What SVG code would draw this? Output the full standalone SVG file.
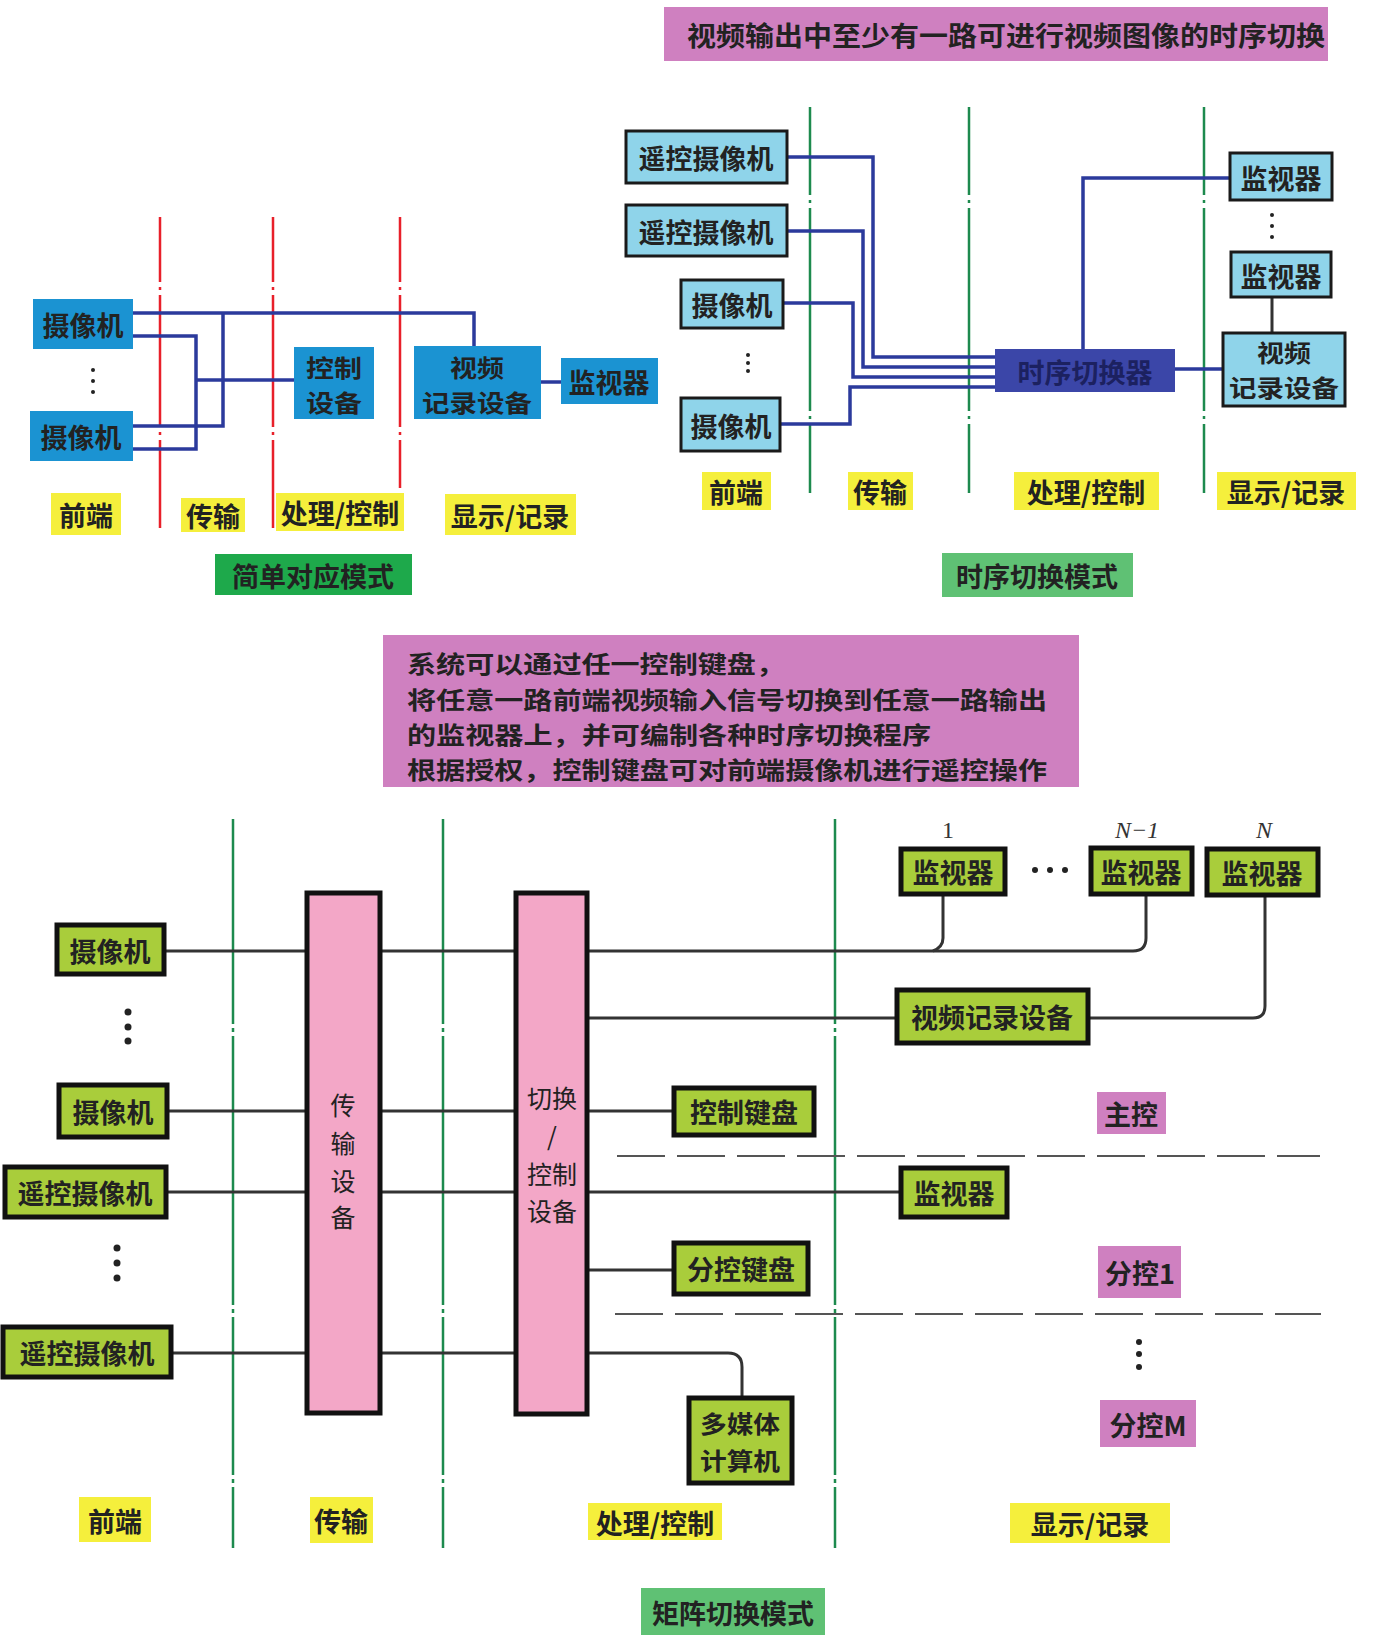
<svg xmlns="http://www.w3.org/2000/svg" width="1377" height="1636" viewBox="0 0 1377 1636">
<style>
text{font-family:"Noto Sans CJK SC","Noto Sans",sans-serif;font-weight:bold;fill:#222;text-anchor:middle;dominant-baseline:central;font-size:27px}
.t2{font-size:24px}
.blue{fill:#1b93d2}
.lb{fill:#8fd4ea;stroke:#1a1a1a;stroke-width:3}
.lime{fill:#a9cd3b;stroke:#111;stroke-width:5}
.pinkbar{fill:#f3a7c7;stroke:#111;stroke-width:5}
.yel{fill:#f5ef3c}
.mag{fill:#cf80c0}
.grn{fill:#1ea94b}
.lgrn{fill:#5fc174}
.red{stroke:#e8202a;stroke-width:2.5;fill:none;stroke-dasharray:65 5 3 5 132 5 3 5 300}
.gl{stroke:#1d8a4e;stroke-width:2.5;fill:none;stroke-dasharray:88 5 3 5 203 5 3 5 200}
.gl2{stroke:#1d8a4e;stroke-width:2.5;fill:none;stroke-dasharray:205 4 4 4 269 4 4 4 158 4 4 4 100}
.bl{stroke:#2b3a9c;stroke-width:3.5;fill:none}
.k{stroke:#333;stroke-width:3;fill:none}
.sep{stroke:#555;stroke-width:2;fill:none;stroke-dasharray:48 12}
.dot{fill:#222}
.vt{font-weight:normal;font-size:25px}
.note{text-anchor:start;font-size:24px}
.num{font-family:"Liberation Serif",serif;font-weight:normal;font-size:24px;fill:#333}
</style>

<!-- ===== Top-left: simple correspondence mode ===== -->
<g id="tl-dividers">
<line class="red" x1="160" y1="217" x2="160" y2="528"/>
<line class="red" x1="273" y1="217" x2="273" y2="528"/>
<line class="red" x1="400" y1="217" x2="400" y2="488"/>
</g>
<g id="tl-connectors">
<path class="bl" d="M133,313 H474 V346"/>
<path class="bl" d="M133,336 H196 V449 H133"/>
<path class="bl" d="M223,313 V426 H133"/>
<path class="bl" d="M196,380 H294"/>
<path class="bl" d="M541,382 H561"/>
</g>
<g id="tl-cam1"><rect class="blue" x="33" y="299" width="100" height="50"/><text x="83" y="324">摄像机</text></g>
<g id="tl-dots"><circle class="dot" cx="93" cy="370" r="2"/><circle class="dot" cx="93" cy="381" r="2"/><circle class="dot" cx="93" cy="392" r="2"/></g>
<g id="tl-cam2"><rect class="blue" x="30" y="411" width="103" height="50"/><text x="81" y="436">摄像机</text></g>
<g id="tl-ctrl"><rect class="blue" x="294" y="347" width="80" height="72"/><text class="t2" x="334" y="366" textLength="56" lengthAdjust="spacingAndGlyphs">控制</text><text class="t2" x="334" y="401" textLength="56" lengthAdjust="spacingAndGlyphs">设备</text></g>
<g id="tl-rec"><rect class="blue" x="414" y="346" width="127" height="73"/><text class="t2" x="477" y="366" textLength="54" lengthAdjust="spacingAndGlyphs">视频</text><text class="t2" x="477" y="401" textLength="110" lengthAdjust="spacingAndGlyphs">记录设备</text></g>
<g id="tl-mon"><rect class="blue" x="561" y="358" width="97" height="46"/><text x="609" y="381">监视器</text></g>
<g id="tl-labels">
<rect class="yel" x="51" y="493" width="70" height="42"/><text x="86" y="514">前端</text>
<rect class="yel" x="181" y="498" width="64" height="34"/><text x="213" y="515">传输</text>
<rect class="yel" x="276" y="493" width="128" height="38"/><text x="340" y="512">处理/控制</text>
<rect class="yel" x="445" y="494" width="131" height="41"/><text x="510" y="515">显示/记录</text>
</g>
<g id="tl-title"><rect class="grn" x="215" y="554" width="197" height="41"/><text x="313" y="575">简单对应模式</text></g>

<!-- ===== Top-right: sequential switching mode ===== -->
<g id="tr-note"><rect class="mag" x="664" y="7" width="664" height="54"/><text x="1006" y="34" font-size="28" textLength="638" lengthAdjust="spacingAndGlyphs">视频输出中至少有一路可进行视频图像的时序切换</text></g>
<g id="tr-dividers">
<line class="gl" x1="810" y1="107" x2="810" y2="493"/>
<line class="gl" x1="969" y1="107" x2="969" y2="493"/>
<line class="gl" x1="1204" y1="107" x2="1204" y2="493"/>
</g>
<g id="tr-connectors">
<path class="bl" d="M787,157 H873 V357 H995"/>
<path class="bl" d="M787,231 H863 V367 H995"/>
<path class="bl" d="M783,303 H853 V377 H995"/>
<path class="bl" d="M780,424 H850 V387 H995"/>
<path class="bl" d="M1083,349 V178 H1230"/>
<path class="bl" d="M1175,369 H1223"/>
<path class="k" d="M1272,297 V333" stroke-width="2.5"/>
</g>
<g id="tr-rc1"><rect class="lb" x="626" y="131" width="161" height="52"/><text x="706" y="157">遥控摄像机</text></g>
<g id="tr-rc2"><rect class="lb" x="626" y="205" width="161" height="51"/><text x="706" y="231">遥控摄像机</text></g>
<g id="tr-cam1"><rect class="lb" x="681" y="280" width="102" height="48"/><text x="732" y="304">摄像机</text></g>
<g id="tr-dots1"><circle class="dot" cx="748" cy="355" r="2"/><circle class="dot" cx="748" cy="363" r="2"/><circle class="dot" cx="748" cy="371" r="2"/></g>
<g id="tr-cam2"><rect class="lb" x="681" y="398" width="99" height="53"/><text x="731" y="425">摄像机</text></g>
<g id="tr-switcher"><rect x="995" y="349" width="180" height="43" fill="#3b46a8"/><text x="1085" y="371" font-size="28" style="fill:#1c2160">时序切换器</text></g>
<g id="tr-mon1"><rect class="lb" x="1230" y="153" width="102" height="47"/><text x="1281" y="177">监视器</text></g>
<g id="tr-dots2"><circle class="dot" cx="1272" cy="215" r="2"/><circle class="dot" cx="1272" cy="226" r="2"/><circle class="dot" cx="1272" cy="237" r="2"/></g>
<g id="tr-mon2"><rect class="lb" x="1231" y="252" width="100" height="45"/><text x="1281" y="275">监视器</text></g>
<g id="tr-rec"><rect class="lb" x="1223" y="333" width="122" height="73"/><text class="t2" x="1284" y="351" textLength="54" lengthAdjust="spacingAndGlyphs">视频</text><text class="t2" x="1284" y="386" textLength="110" lengthAdjust="spacingAndGlyphs">记录设备</text></g>
<g id="tr-labels">
<rect class="yel" x="702" y="472" width="69" height="38"/><text x="736" y="491">前端</text>
<rect class="yel" x="848" y="472" width="65" height="38"/><text x="880" y="491">传输</text>
<rect class="yel" x="1014" y="472" width="145" height="38"/><text x="1086" y="491">处理/控制</text>
<rect class="yel" x="1217" y="472" width="139" height="38"/><text x="1286" y="491">显示/记录</text>
</g>
<g id="tr-title"><rect class="lgrn" x="942" y="553" width="191" height="44"/><text x="1037" y="575">时序切换模式</text></g>

<!-- ===== Middle note ===== -->
<g id="mid-note">
<rect class="mag" x="383" y="635" width="696" height="152"/>
<text class="note" x="407" y="662" textLength="378" lengthAdjust="spacingAndGlyphs">系统可以通过任一控制键盘，</text>
<text class="note" x="407" y="698" textLength="640" lengthAdjust="spacingAndGlyphs">将任意一路前端视频输入信号切换到任意一路输出</text>
<text class="note" x="407" y="733" textLength="524" lengthAdjust="spacingAndGlyphs">的监视器上，并可编制各种时序切换程序</text>
<text class="note" x="407" y="768" textLength="640" lengthAdjust="spacingAndGlyphs">根据授权，控制键盘可对前端摄像机进行遥控操作</text>
</g>

<!-- ===== Bottom: matrix switching mode ===== -->
<g id="bt-dividers">
<line class="gl2" x1="233" y1="819" x2="233" y2="1548"/>
<line class="gl2" x1="443" y1="819" x2="443" y2="1548"/>
<line class="gl2" x1="835" y1="819" x2="835" y2="1548"/>
</g>
<g id="bt-separators">
<line class="sep" x1="617" y1="1156" x2="1320" y2="1156"/>
<line class="sep" x1="615" y1="1314" x2="1321" y2="1314"/>
</g>
<g id="bt-connectors">
<path class="k" d="M164,951 H307 M380,951 H516 M587,951 H1133 Q1146,951 1146,938 V894"/>
<path class="k" d="M943,894 V938 Q943,947 933,951"/>
<path class="k" d="M587,1018 H897 M1088,1018 H1253 Q1265,1018 1265,1006 V895"/>
<path class="k" d="M167,1111 H307 M380,1111 H516 M587,1111 H674"/>
<path class="k" d="M166,1192 H307 M380,1192 H516 M587,1192 H901"/>
<path class="k" d="M587,1270 H674"/>
<path class="k" d="M171,1353 H307 M380,1353 H516 M587,1353 H728 Q742,1353 742,1367 V1398"/>
</g>
<g id="bt-trans"><rect class="pinkbar" x="307" y="893" width="73" height="520"/>
<text class="vt" x="343" y="1104">传</text><text class="vt" x="343" y="1142">输</text><text class="vt" x="343" y="1180">设</text><text class="vt" x="343" y="1216">备</text></g>
<g id="bt-switch"><rect class="pinkbar" x="516" y="893" width="71" height="521"/>
<text class="vt" x="552" y="1097">切换</text><text class="vt" x="552" y="1135">/</text><text class="vt" x="552" y="1173">控制</text><text class="vt" x="552" y="1210">设备</text></g>
<g id="bt-cam1"><rect class="lime" x="57" y="925" width="107" height="49"/><text x="110" y="950">摄像机</text></g>
<g id="bt-dots1"><circle class="dot" cx="128" cy="1012" r="3.5"/><circle class="dot" cx="128" cy="1027" r="3.5"/><circle class="dot" cx="128" cy="1041" r="3.5"/></g>
<g id="bt-cam2"><rect class="lime" x="59" y="1085" width="108" height="52"/><text x="113" y="1111">摄像机</text></g>
<g id="bt-rc1"><rect class="lime" x="5" y="1167" width="161" height="50"/><text x="85" y="1192">遥控摄像机</text></g>
<g id="bt-dots2"><circle class="dot" cx="117" cy="1248" r="3.5"/><circle class="dot" cx="117" cy="1263" r="3.5"/><circle class="dot" cx="117" cy="1278" r="3.5"/></g>
<g id="bt-rc2"><rect class="lime" x="3" y="1327" width="168" height="50"/><text x="87" y="1352">遥控摄像机</text></g>
<g id="bt-numbers"><text class="num" x="948" y="830">1</text><text class="num" x="1137" y="830" font-style="italic">N−1</text><text class="num" x="1264" y="830" font-style="italic">N</text></g>
<g id="bt-mon1"><rect class="lime" x="901" y="849" width="104" height="45"/><text x="953" y="871">监视器</text></g>
<g id="bt-dots3"><circle class="dot" cx="1035" cy="870" r="3"/><circle class="dot" cx="1050" cy="870" r="3"/><circle class="dot" cx="1065" cy="870" r="3"/></g>
<g id="bt-monN1"><rect class="lime" x="1091" y="848" width="101" height="46"/><text x="1141" y="871">监视器</text></g>
<g id="bt-monN"><rect class="lime" x="1207" y="849" width="111" height="46"/><text x="1262" y="872">监视器</text></g>
<g id="bt-rec"><rect class="lime" x="897" y="990" width="191" height="53"/><text x="992" y="1016">视频记录设备</text></g>
<g id="bt-kbd"><rect class="lime" x="674" y="1088" width="140" height="47"/><text x="744" y="1111">控制键盘</text></g>
<g id="bt-main"><rect class="mag" x="1097" y="1092" width="69" height="42"/><text x="1131" y="1113">主控</text></g>
<g id="bt-mon2"><rect class="lime" x="901" y="1168" width="106" height="49"/><text x="954" y="1192">监视器</text></g>
<g id="bt-subkbd"><rect class="lime" x="674" y="1243" width="134" height="51"/><text x="741" y="1268">分控键盘</text></g>
<g id="bt-sub1"><rect class="mag" x="1098" y="1246" width="83" height="52"/><text x="1140" y="1272">分控1</text></g>
<g id="bt-dots4"><circle class="dot" cx="1139" cy="1342" r="3"/><circle class="dot" cx="1139" cy="1354" r="3"/><circle class="dot" cx="1139" cy="1367" r="3"/></g>
<g id="bt-subM"><rect class="mag" x="1100" y="1400" width="96" height="47"/><text x="1148" y="1424">分控M</text></g>
<g id="bt-pc"><rect class="lime" x="689" y="1398" width="103" height="85"/><text class="t2" x="740" y="1422" textLength="80" lengthAdjust="spacingAndGlyphs">多媒体</text><text class="t2" x="740" y="1459" textLength="80" lengthAdjust="spacingAndGlyphs">计算机</text></g>
<g id="bt-labels">
<rect class="yel" x="79" y="1497" width="72" height="45"/><text x="115" y="1520">前端</text>
<rect class="yel" x="310" y="1497" width="63" height="46"/><text x="341" y="1520">传输</text>
<rect class="yel" x="588" y="1503" width="134" height="37"/><text x="655" y="1522">处理/控制</text>
<rect class="yel" x="1010" y="1503" width="160" height="40"/><text x="1090" y="1523">显示/记录</text>
</g>
<g id="bt-title"><rect class="lgrn" x="641" y="1588" width="184" height="47"/><text x="733" y="1612">矩阵切换模式</text></g>
</svg>
